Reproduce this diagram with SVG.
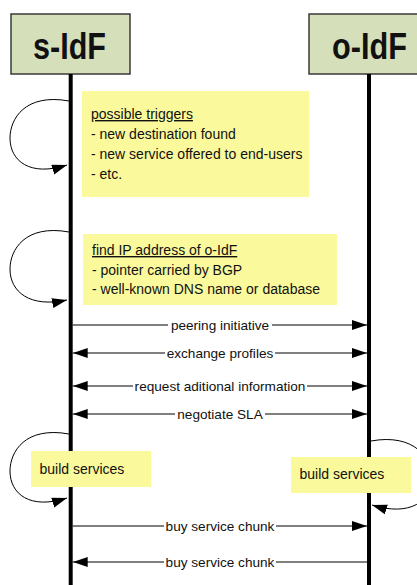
<svg xmlns="http://www.w3.org/2000/svg" width="417" height="585" viewBox="0 0 417 585">
  <style>
    .actor { fill: #d5e0bb; stroke: #3a3a3a; stroke-width: 1.5; }
    .actor-label { font-family: "Liberation Sans", Arial, sans-serif; font-weight: bold; font-size: 36px; fill: #111; }
    .lifeline { stroke: #000; stroke-width: 4; }
    .note { fill: #fafa9c; }
    .note-text { font-family: "Liberation Sans", Arial, sans-serif; font-size: 14px; fill: #111; }
    .heading { text-decoration: underline; }
    .msg { stroke: #000; stroke-width: 1; fill: none; }
    .loop { stroke: #000; stroke-width: 1; fill: none; marker-end: url(#arrow); }
    .msg-label { font-family: "Liberation Sans", Arial, sans-serif; font-size: 13.6px; fill: #111; text-anchor: middle; }
    .label-bg { fill: #fff; }
  </style>
  <defs>
    <marker id="arrow" markerUnits="userSpaceOnUse" markerWidth="16" markerHeight="12" refX="15" refY="5" orient="auto">
      <path d="M0,0 L15,5 L0,10 Z" fill="#000"/>
    </marker>
    <marker id="arrow-start" markerUnits="userSpaceOnUse" markerWidth="16" markerHeight="12" refX="0" refY="5" orient="auto">
      <path d="M15,0 L0,5 L15,10 Z" fill="#000"/>
    </marker>
  </defs>

  <rect width="417" height="585" fill="#fff"/>

  <!-- participants -->
  <g id="s-idf">
    <rect class="actor" x="11" y="14" width="119" height="60"/>
    <text class="actor-label" x="33" y="59" textLength="73" lengthAdjust="spacingAndGlyphs">s-IdF</text>
    <line class="lifeline" x1="70.7" y1="74" x2="70.7" y2="585"/>
  </g>
  <g id="o-idf">
    <rect class="actor" x="309" y="14" width="120" height="60"/>
    <text class="actor-label" x="332" y="59" textLength="75" lengthAdjust="spacingAndGlyphs">o-IdF</text>
    <line class="lifeline" x1="369" y1="74" x2="369" y2="585"/>
  </g>

  <!-- notes -->
  <g id="note-triggers">
    <rect class="note" x="82" y="91" width="227" height="106"/>
    <text class="note-text heading" x="91" y="119">possible triggers</text>
    <text class="note-text" x="91" y="139">- new destination found</text>
    <text class="note-text" x="91" y="159">- new service offered to end-users</text>
    <text class="note-text" x="91" y="179">- etc.</text>
  </g>
  <g id="note-find-ip">
    <rect class="note" x="83" y="234" width="254" height="71"/>
    <text class="note-text heading" x="92" y="255">find IP address of o-IdF</text>
    <text class="note-text" x="92" y="275">- pointer carried by BGP</text>
    <text class="note-text" x="92" y="294">- well-known DNS name or database</text>
  </g>
  <g id="note-build-s">
    <rect class="note" x="31" y="451" width="120" height="36"/>
    <text class="note-text" x="39.5" y="474">build services</text>
  </g>
  <g id="note-build-o">
    <rect class="note" x="291" y="457" width="120" height="36"/>
    <text class="note-text" x="299.5" y="479">build services</text>
  </g>

  <!-- connectors -->
  <g id="connectors">
    <!-- self loops -->
    <path class="loop" d="M69,101 C25,93 10,119 10,138 C10,161 30,177 67,165"/>
    <path class="loop" d="M69,232 C25,224 10,250 10,269 C10,292 30,308 67,300"/>
    <path class="loop" d="M69,434 C25,426 10,452 10,471 C10,494 30,510 67,498"/>
    <path class="loop" d="M371,441 C415,433 432,459 432,478 C432,501 410,517 372,505"/>

    <!-- messages -->
    <line class="msg" x1="72.7" y1="325" x2="367" y2="325" marker-end="url(#arrow)"/>
    <line class="msg" x1="72.7" y1="353" x2="367" y2="353" marker-start="url(#arrow-start)" marker-end="url(#arrow)"/>
    <line class="msg" x1="72.7" y1="386" x2="367" y2="386" marker-start="url(#arrow-start)" marker-end="url(#arrow)"/>
    <line class="msg" x1="72.7" y1="414" x2="367" y2="414" marker-start="url(#arrow-start)" marker-end="url(#arrow)"/>
    <line class="msg" x1="72.7" y1="526" x2="367" y2="526" marker-end="url(#arrow)"/>
    <line class="msg" x1="72.7" y1="562" x2="367" y2="562" marker-start="url(#arrow-start)"/>

    <!-- message labels -->
    <rect class="label-bg" x="168" y="318" width="104" height="14"/>
    <text class="msg-label" x="220" y="330">peering initiative</text>
    <rect class="label-bg" x="165" y="346" width="110" height="14"/>
    <text class="msg-label" x="220" y="358">exchange profiles</text>
    <rect class="label-bg" x="133" y="379" width="174" height="14"/>
    <text class="msg-label" x="220" y="391">request aditional information</text>
    <rect class="label-bg" x="175" y="407" width="90" height="14"/>
    <text class="msg-label" x="220" y="419">negotiate SLA</text>
    <rect class="label-bg" x="164" y="519" width="112" height="14"/>
    <text class="msg-label" x="220" y="531">buy service chunk</text>
    <rect class="label-bg" x="164" y="555" width="112" height="14"/>
    <text class="msg-label" x="220" y="567">buy service chunk</text>
  </g>
</svg>
